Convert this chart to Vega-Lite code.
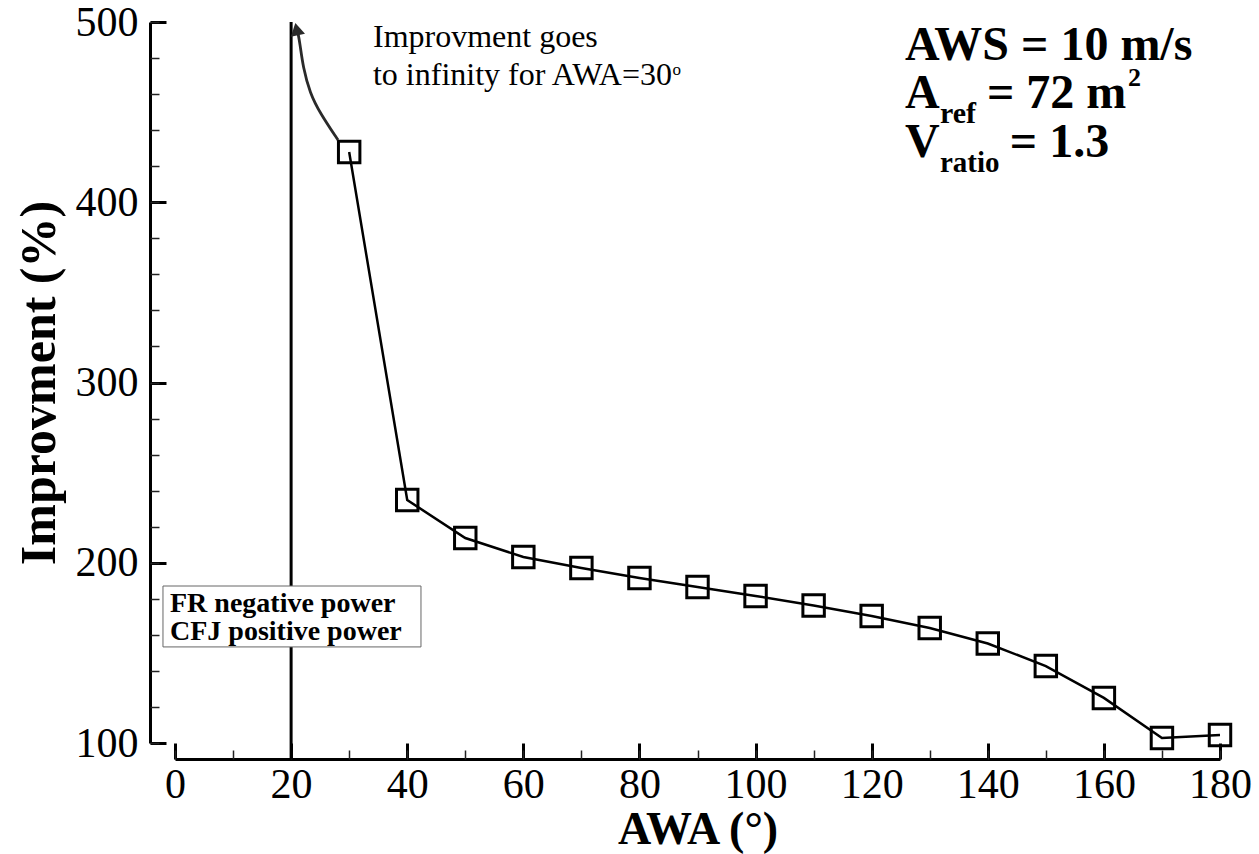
{
  "$schema": "https://vega.github.io/schema/vega-lite/v6.json",
  "width": 1045,
  "height": 721,
  "autosize": "none",
  "padding": {"left": 175, "top": 22, "right": 39, "bottom": 111},
  "background": "white",
  "config": {"view": {"stroke": null}, "font": "Liberation Serif", "axis": {"grid": false}},
  "datasets": {
    "improvement": [
      {"AWA": 30, "Improvment": 427.9},
      {"AWA": 40, "Improvment": 234.8},
      {"AWA": 50, "Improvment": 213.7},
      {"AWA": 60, "Improvment": 203.2},
      {"AWA": 70, "Improvment": 197.1},
      {"AWA": 80, "Improvment": 191.5},
      {"AWA": 90, "Improvment": 186.5},
      {"AWA": 100, "Improvment": 181.6},
      {"AWA": 110, "Improvment": 176.3},
      {"AWA": 120, "Improvment": 170.5},
      {"AWA": 130, "Improvment": 163.8},
      {"AWA": 140, "Improvment": 155.2},
      {"AWA": 150, "Improvment": 142.7},
      {"AWA": 160, "Improvment": 125.0},
      {"AWA": 170, "Improvment": 102.8},
      {"AWA": 180, "Improvment": 104.4}
    ],
    "arrow": [
      {"step": 1, "AWA": 28.08, "Improvment": 434.5},
      {"step": 2, "AWA": 24.98, "Improvment": 449.5},
      {"step": 3, "AWA": 23.25, "Improvment": 460.5},
      {"step": 4, "AWA": 22.05, "Improvment": 475.0},
      {"step": 5, "AWA": 21.53, "Improvment": 488.0},
      {"step": 6, "AWA": 21.15, "Improvment": 494.5}
    ],
    "one": [{}]
  },
  "layer": [
    {
      "data": {"name": "one"},
      "mark": {"type": "rule", "color": "black", "strokeWidth": 3},
      "encoding": {
        "x": {"datum": 20, "type": "quantitative", "scale": {"domain": [0, 180], "nice": false, "zero": false}, "axis": null},
        "y": {"datum": 500, "type": "quantitative", "scale": {"domain": [100, 500], "nice": false, "zero": false}, "axis": null},
        "y2": {"datum": 91}
      }
    },
    {
      "data": {"name": "one"},
      "mark": {"type": "rect", "fill": "white", "stroke": "#666666", "strokeWidth": 1},
      "encoding": {
        "x": {"datum": -2.07, "type": "quantitative", "scale": {"domain": [0, 180], "nice": false, "zero": false}, "axis": null},
        "x2": {"datum": 42.37},
        "y": {"datum": 187.1, "type": "quantitative", "scale": {"domain": [100, 500], "nice": false, "zero": false}, "axis": null},
        "y2": {"datum": 153.3}
      }
    },
    {
      "data": {"name": "improvement"},
      "mark": {"type": "line", "color": "black", "strokeWidth": 2.5},
      "encoding": {
        "x": {
          "field": "AWA", "type": "quantitative",
          "scale": {"domain": [0, 180], "nice": false, "zero": false},
          "axis": {
            "orient": "bottom", "offset": 16,
            "values": [0, 20, 40, 60, 80, 100, 120, 140, 160, 180],
            "ticks": false, "domainColor": "black", "domainWidth": 3,
            "labelFont": "Liberation Serif", "labelFontSize": 42, "labelColor": "black",
            "labelPadding": 5, "labelFlush": false, "labelOverlap": false, "format": "d",
            "title": "AWA (°)", "titleFont": "Liberation Serif", "titleFontSize": 46,
            "titleFontWeight": "bold", "titleColor": "black", "titlePadding": 2
          }
        },
        "y": {
          "field": "Improvment", "type": "quantitative",
          "scale": {"domain": [100, 500], "nice": false, "zero": false},
          "axis": {
            "orient": "left", "offset": 25,
            "values": [100, 200, 300, 400, 500],
            "ticks": false, "domainColor": "black", "domainWidth": 3,
            "labelFont": "Liberation Serif", "labelFontSize": 42, "labelColor": "black",
            "labelPadding": 12, "labelFlush": false, "labelOverlap": false, "format": "d",
            "title": "Improvment (%)", "titleFont": "Liberation Serif", "titleFontSize": 50,
            "titleFontWeight": "bold", "titleColor": "black", "titlePadding": 11
          }
        }
      }
    },
    {
      "data": {"name": "improvement"},
      "mark": {"type": "point", "shape": "square", "size": 460, "filled": false, "color": "black", "strokeWidth": 3, "opacity": 1},
      "encoding": {
        "x": {
          "field": "AWA", "type": "quantitative",
          "scale": {"domain": [0, 180], "nice": false, "zero": false},
          "axis": {
            "orient": "bottom", "offset": 16,
            "values": [0, 20, 40, 60, 80, 100, 120, 140, 160, 180],
            "labels": false, "domain": false, "tickSize": -16, "tickWidth": 3,
            "tickColor": "black", "title": null
          }
        },
        "y": {
          "field": "Improvment", "type": "quantitative",
          "scale": {"domain": [100, 500], "nice": false, "zero": false},
          "axis": {
            "orient": "left", "offset": 25,
            "values": [100, 200, 300, 400, 500],
            "labels": false, "domain": false, "tickSize": -16, "tickWidth": 3,
            "tickColor": "black", "title": null
          }
        }
      }
    },
    {
      "data": {"name": "arrow"},
      "mark": {"type": "line", "color": "#2a2a2a", "strokeWidth": 2.8, "interpolate": "basis"},
      "encoding": {
        "order": {"field": "step", "type": "quantitative"},
        "x": {
          "field": "AWA", "type": "quantitative",
          "scale": {"domain": [0, 180], "nice": false, "zero": false},
          "axis": {
            "orient": "bottom", "offset": 16,
            "values": [0, 10, 20, 30, 40, 50, 60, 70, 80, 90, 100, 110, 120, 130, 140, 150, 160, 170, 180],
            "labels": false, "domain": false, "tickSize": -9, "tickWidth": 1.5,
            "tickColor": "#222222", "title": null
          }
        },
        "y": {
          "field": "Improvment", "type": "quantitative",
          "scale": {"domain": [100, 500], "nice": false, "zero": false},
          "axis": {
            "orient": "left", "offset": 25,
            "values": [100, 120, 140, 160, 180, 200, 220, 240, 260, 280, 300, 320, 340, 360, 380, 400, 420, 440, 460, 480, 500],
            "labels": false, "domain": false, "tickSize": -9, "tickWidth": 1.5,
            "tickColor": "#222222", "title": null
          }
        }
      }
    },
    {
      "data": {"name": "one"},
      "mark": {"type": "point", "shape": "triangle-up", "filled": true, "color": "#2a2a2a", "size": 210, "angle": 348, "opacity": 1},
      "encoding": {
        "x": {"datum": 20.95, "type": "quantitative", "scale": {"domain": [0, 180], "nice": false, "zero": false}, "axis": null},
        "y": {"datum": 496.0, "type": "quantitative", "scale": {"domain": [100, 500], "nice": false, "zero": false}, "axis": null}
      }
    },
    {
      "data": {"name": "one"},
      "mark": {"type": "text", "text": "Improvment goes", "align": "left", "baseline": "alphabetic", "font": "Liberation Serif", "fontSize": 32, "color": "black"},
      "encoding": {
        "x": {"datum": 34.1, "type": "quantitative", "scale": {"domain": [0, 180], "nice": false, "zero": false}, "axis": null},
        "y": {"datum": 486.1, "type": "quantitative", "scale": {"domain": [100, 500], "nice": false, "zero": false}, "axis": null}
      }
    },
    {
      "data": {"name": "one"},
      "mark": {"type": "text", "text": "to infinity for AWA=30", "align": "left", "baseline": "alphabetic", "font": "Liberation Serif", "fontSize": 32, "color": "black"},
      "encoding": {
        "x": {"datum": 34.1, "type": "quantitative", "scale": {"domain": [0, 180], "nice": false, "zero": false}, "axis": null},
        "y": {"datum": 465.0, "type": "quantitative", "scale": {"domain": [100, 500], "nice": false, "zero": false}, "axis": null}
      }
    },
    {
      "data": {"name": "one"},
      "mark": {"type": "text", "text": "o", "align": "left", "baseline": "alphabetic", "font": "Liberation Serif", "fontSize": 17, "color": "black"},
      "encoding": {
        "x": {"datum": 85.7, "type": "quantitative", "scale": {"domain": [0, 180], "nice": false, "zero": false}, "axis": null},
        "y": {"datum": 470.6, "type": "quantitative", "scale": {"domain": [100, 500], "nice": false, "zero": false}, "axis": null}
      }
    },
    {
      "data": {"name": "one"},
      "mark": {"type": "text", "text": "AWS = 10 m/s", "align": "left", "baseline": "alphabetic", "font": "Liberation Serif", "fontSize": 48, "fontWeight": "bold", "color": "black"},
      "encoding": {
        "x": {"datum": 125.74, "type": "quantitative", "scale": {"domain": [0, 180], "nice": false, "zero": false}, "axis": null},
        "y": {"datum": 478.9, "type": "quantitative", "scale": {"domain": [100, 500], "nice": false, "zero": false}, "axis": null}
      }
    },
    {
      "data": {"name": "one"},
      "mark": {"type": "text", "text": "A", "align": "left", "baseline": "alphabetic", "font": "Liberation Serif", "fontSize": 48, "fontWeight": "bold", "color": "black"},
      "encoding": {
        "x": {"datum": 125.74, "type": "quantitative", "scale": {"domain": [0, 180], "nice": false, "zero": false}, "axis": null},
        "y": {"datum": 452.3, "type": "quantitative", "scale": {"domain": [100, 500], "nice": false, "zero": false}, "axis": null}
      }
    },
    {
      "data": {"name": "one"},
      "mark": {"type": "text", "text": "ref", "align": "left", "baseline": "alphabetic", "font": "Liberation Serif", "fontSize": 30, "fontWeight": "bold", "color": "black"},
      "encoding": {
        "x": {"datum": 131.77, "type": "quantitative", "scale": {"domain": [0, 180], "nice": false, "zero": false}, "axis": null},
        "y": {"datum": 444.0, "type": "quantitative", "scale": {"domain": [100, 500], "nice": false, "zero": false}, "axis": null}
      }
    },
    {
      "data": {"name": "one"},
      "mark": {"type": "text", "text": "= 72 m", "align": "left", "baseline": "alphabetic", "font": "Liberation Serif", "fontSize": 48, "fontWeight": "bold", "color": "black"},
      "encoding": {
        "x": {"datum": 139.86, "type": "quantitative", "scale": {"domain": [0, 180], "nice": false, "zero": false}, "axis": null},
        "y": {"datum": 452.3, "type": "quantitative", "scale": {"domain": [100, 500], "nice": false, "zero": false}, "axis": null}
      }
    },
    {
      "data": {"name": "one"},
      "mark": {"type": "text", "text": "2", "align": "left", "baseline": "alphabetic", "font": "Liberation Serif", "fontSize": 26, "fontWeight": "bold", "color": "black"},
      "encoding": {
        "x": {"datum": 164.15, "type": "quantitative", "scale": {"domain": [0, 180], "nice": false, "zero": false}, "axis": null},
        "y": {"datum": 464.5, "type": "quantitative", "scale": {"domain": [100, 500], "nice": false, "zero": false}, "axis": null}
      }
    },
    {
      "data": {"name": "one"},
      "mark": {"type": "text", "text": "V", "align": "left", "baseline": "alphabetic", "font": "Liberation Serif", "fontSize": 48, "fontWeight": "bold", "color": "black"},
      "encoding": {
        "x": {"datum": 125.74, "type": "quantitative", "scale": {"domain": [0, 180], "nice": false, "zero": false}, "axis": null},
        "y": {"datum": 425.1, "type": "quantitative", "scale": {"domain": [100, 500], "nice": false, "zero": false}, "axis": null}
      }
    },
    {
      "data": {"name": "one"},
      "mark": {"type": "text", "text": "ratio", "align": "left", "baseline": "alphabetic", "font": "Liberation Serif", "fontSize": 29, "fontWeight": "bold", "color": "black"},
      "encoding": {
        "x": {"datum": 131.77, "type": "quantitative", "scale": {"domain": [0, 180], "nice": false, "zero": false}, "axis": null},
        "y": {"datum": 416.8, "type": "quantitative", "scale": {"domain": [100, 500], "nice": false, "zero": false}, "axis": null}
      }
    },
    {
      "data": {"name": "one"},
      "mark": {"type": "text", "text": "= 1.3", "align": "left", "baseline": "alphabetic", "font": "Liberation Serif", "fontSize": 48, "fontWeight": "bold", "color": "black"},
      "encoding": {
        "x": {"datum": 143.8, "type": "quantitative", "scale": {"domain": [0, 180], "nice": false, "zero": false}, "axis": null},
        "y": {"datum": 425.1, "type": "quantitative", "scale": {"domain": [100, 500], "nice": false, "zero": false}, "axis": null}
      }
    },
    {
      "data": {"name": "one"},
      "mark": {"type": "text", "text": "FR negative power", "align": "left", "baseline": "alphabetic", "font": "Liberation Serif", "fontSize": 28, "fontWeight": "bold", "color": "black"},
      "encoding": {
        "x": {"datum": -0.86, "type": "quantitative", "scale": {"domain": [0, 180], "nice": false, "zero": false}, "axis": null},
        "y": {"datum": 172.9, "type": "quantitative", "scale": {"domain": [100, 500], "nice": false, "zero": false}, "axis": null}
      }
    },
    {
      "data": {"name": "one"},
      "mark": {"type": "text", "text": "CFJ positive power", "align": "left", "baseline": "alphabetic", "font": "Liberation Serif", "fontSize": 28, "fontWeight": "bold", "color": "black"},
      "encoding": {
        "x": {"datum": -0.86, "type": "quantitative", "scale": {"domain": [0, 180], "nice": false, "zero": false}, "axis": null},
        "y": {"datum": 156.9, "type": "quantitative", "scale": {"domain": [100, 500], "nice": false, "zero": false}, "axis": null}
      }
    }
  ],
  "resolve": {"axis": {"x": "independent", "y": "independent"}}
}
